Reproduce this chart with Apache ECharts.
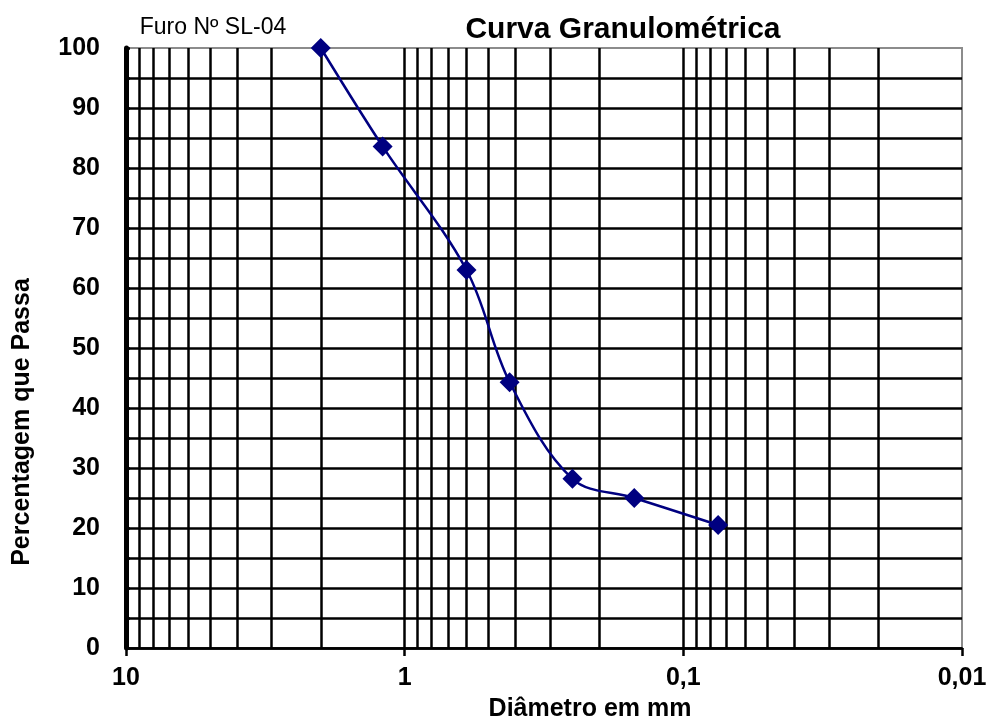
<!DOCTYPE html>
<html>
<head>
<meta charset="utf-8">
<script src="https://cdn.jsdelivr.net/npm/echarts@6/dist/echarts.min.js"></script>
<style>
html, body { margin: 0; padding: 0; background: #fff; }
#chart1 { width: 992px; height: 724px; }
</style>
</head>
<body>
<div id="chart1"></div>
<script>
// diametro das peneiras (mm) e percentagem que passa
var diametros = [2.0, 1.2, 0.6, 0.42, 0.25, 0.15, 0.075];
var passante = [100, 83.6, 63.0, 44.3, 28.2, 25.0, 20.5];
// linhas verticais intermediarias da escala logaritmica
var gradeX = [9, 8, 7, 6, 5, 4, 3, 2, 0.9, 0.8, 0.7, 0.6, 0.5, 0.4, 0.3, 0.2, 0.09, 0.08, 0.07, 0.06, 0.05, 0.04, 0.03, 0.02];
var rotulosX = {'10': '10', '1': '1', '0.1': '0,1', '0.01': '0,01'};

var fonte = '"Liberation Sans", Arial, sans-serif';
var espessura = 2.5;

var myChart = echarts.init(document.getElementById('chart1'));
var option = {
    animation: false,
    graphic: [
        {type: 'text', x: 623, y: 30, style: {text: 'Curva Granulométrica', font: 'bold 30px ' + fonte, fill: '#000', textAlign: 'center', textVerticalAlign: 'middle'}},
        {type: 'text', x: 213, y: 28, style: {text: 'Furo Nº SL-04', font: '23px ' + fonte, fill: '#000', textAlign: 'center', textVerticalAlign: 'middle'}},
        {type: 'text', x: 590, y: 709, style: {text: 'Diâmetro em mm', font: 'bold 25px ' + fonte, fill: '#000', textAlign: 'center', textVerticalAlign: 'middle'}},
        {type: 'text', x: 22, y: 422, rotation: Math.PI / 2, style: {text: 'Percentagem que Passa', font: 'bold 25px ' + fonte, fill: '#000', textAlign: 'center', textVerticalAlign: 'middle'}}
    ],
    grid: {
        left: 126,
        right: 30,
        top: 48,
        bottom: 76,
        show: true,
        borderColor: '#8c8c8c',
        borderWidth: 2
    },
    xAxis: {
        type: 'log',
        logBase: 10,
        min: 0.01,
        max: 10,
        inverse: true,
        axisLine: {lineStyle: {color: '#000', width: espessura}},
        axisTick: {inside: false, length: 8, lineStyle: {color: '#000', width: espessura}},
        splitLine: {show: true, showMinLine: false, lineStyle: {color: '#000', width: espessura}},
        axisLabel: {
            margin: 18,
            color: '#000',
            fontSize: 25,
            fontWeight: 'bold',
            fontFamily: fonte,
            formatter: function (v) {
                var k = String(Number(v.toPrecision(3)));
                return rotulosX[k] || k.replace('.', ',');
            }
        }
    },
    yAxis: {
        type: 'value',
        min: 0,
        max: 100,
        interval: 10,
        axisLine: {show: true, lineStyle: {color: '#000', width: 5}},
        axisTick: {show: true, inside: true, length: 4, lineStyle: {color: '#000', width: espessura}},
        minorTick: {show: true, splitNumber: 2, length: 4, lineStyle: {color: '#000', width: espessura}},
        splitLine: {show: true, showMaxLine: false, lineStyle: {color: '#000', width: espessura}},
        minorSplitLine: {show: true, lineStyle: {color: '#000', width: espessura}},
        axisLabel: {
            margin: 26,
            color: '#000',
            fontSize: 25,
            fontWeight: 'bold',
            fontFamily: fonte
        }
    },
    series: [
        {
            name: 'grade',
            type: 'line',
            data: [],
            z: 1,
            silent: true,
            markLine: {
                silent: true,
                symbol: ['none', 'none'],
                label: {show: false},
                lineStyle: {color: '#000', width: espessura, type: 'solid'},
                data: gradeX.map(function (v) { return {xAxis: v}; })
            }
        },
        {
            name: 'Curva',
            type: 'line',
            z: 5,
            smooth: 0.35,
            symbol: 'diamond',
            symbolSize: 20,
            lineStyle: {color: '#000080', width: 2.5},
            itemStyle: {color: '#000080'},
            data: diametros.map(function (d, i) { return [d, passante[i]]; })
        }
    ]
};
myChart.setOption(option);
</script>
</body>
</html>
